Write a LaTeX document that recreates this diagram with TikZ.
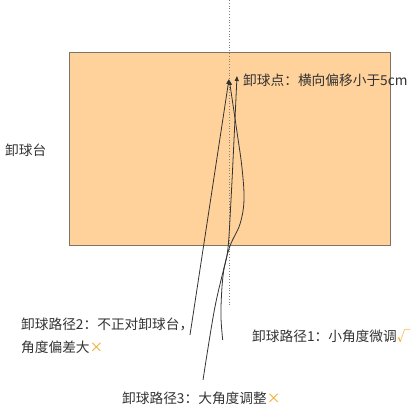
\documentclass[tikz,border=0pt]{standalone}
\usepackage{fontspec}
\setmainfont{Noto Sans CJK SC}
\usetikzlibrary{arrows.meta}
\definecolor{boxfill}{HTML}{FFD29B}
\definecolor{boxline}{HTML}{7F7363}
\definecolor{txt}{HTML}{333333}
\definecolor{mark}{HTML}{F5A623}
\tikzset{
  lbl/.style={inner sep=0pt, text=txt, font=\fontsize{13.7bp}{23bp}\selectfont, align=left},
  pathline/.style={draw=txt, line width=0.8bp, -{Triangle[length=5bp,width=4bp]}},
}
\begin{document}
\begin{tikzpicture}[x=1bp,y=-1bp]
\useasboundingbox (0,0) rectangle (416,410);
\fill[white] (0,0) rectangle (416,410);
\node[draw=boxline, fill=boxfill, line width=1bp, minimum width=321bp, minimum height=193bp, inner sep=0pt, anchor=north west] (table) at (69,52) {};
\coordinate (dtop) at (229.5,0);
\coordinate (dbot) at (229.5,305);
\draw[gray, line width=0.8bp, dotted] (dtop) -- (dbot);
\coordinate (p2s) at (190,335);
\coordinate (apexL) at (229,79);
\coordinate (apexR) at (237,75);
\draw[pathline] (p2s) -- (apexL);
\draw[pathline] plot[smooth, tension=0.6] coordinates {(203,380) (214,312) (223,272) (230,246) (240,224) (244,200) (242,168) (237,132) (229.3,80)};
\draw[pathline] plot[smooth, tension=0.6] coordinates {(222.7,340) (221,318) (221.5,295) (223.5,272) (228,248) (231,200) (234,140) (237,76)};
\node[lbl, anchor=west] (point) at (243,80) {卸球点：横向偏移小于5cm};
\node[lbl, anchor=west] (tablelbl) at (5,150) {卸球台};
\node[lbl, anchor=west] (l2) at (21,335.5) {卸球路径2：不正对卸球台，\\角度偏差大{\color{mark}×}};
\node[lbl, anchor=west] (l1) at (252,336) {卸球路径1：小角度微调{\color{mark}√}};
\node[lbl, anchor=west] (l3) at (122,398) {卸球路径3：大角度调整{\color{mark}×}};
\end{tikzpicture}
\end{document}
